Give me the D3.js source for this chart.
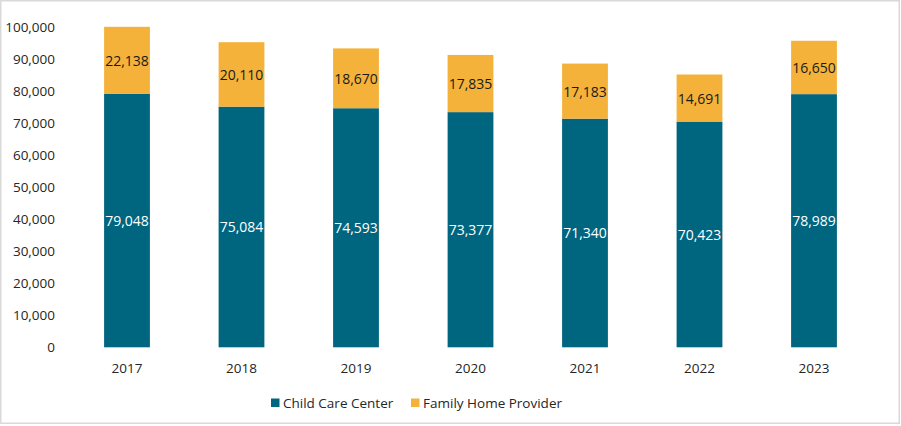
<!DOCTYPE html>
<html>
<head>
<meta charset="utf-8">
<script src="https://cdn.jsdelivr.net/npm/d3@7"></script>
<style>
  html, body { margin: 0; padding: 0; background: #fff; }
  svg { display: block; }
  text { font-family: "Open Sans", "Noto Sans", sans-serif; }
</style>
</head>
<body>
<svg id="chart" width="901" height="426"></svg>
<script>
const years = ["2017", "2018", "2019", "2020", "2021", "2022", "2023"];
const childCareCenter = [79048, 75084, 74593, 73377, 71340, 70423, 78989];
const familyHomeProvider = [22138, 20110, 18670, 17835, 17183, 14691, 16650];
const seriesNames = ["Child Care Center", "Family Home Provider"];
const seriesColors = ["#00657F", "#F4B23A"];
const labelColors = ["#ffffff", "#1a1a1a"];
const yTicks = [0, 10000, 20000, 30000, 40000, 50000, 60000, 70000, 80000, 90000, 100000];

const W = 901, H = 426;
const svg = d3.select("#chart");

// outer border
svg.append("rect")
  .attr("x", 0.75).attr("y", 0.75)
  .attr("width", 898.5).attr("height", 422.5)
  .attr("fill", "#fff").attr("stroke", "#d9d9d9").attr("stroke-width", 1.5);

const plotLeft = 69.75, plotRight = 871.25;
const x = d3.scaleBand().domain(years).range([plotLeft, plotRight]).paddingInner(0.6).paddingOuter(0.3);
const y = d3.scaleLinear().domain([0, 100000]).range([347.3, 26.8]).clamp(true);

const data = years.map((yr, i) => ({ year: yr, v0: childCareCenter[i], v1: familyHomeProvider[i] }));
const stack = d3.stack().keys(["v0", "v1"]);
const stacked = stack(data);

// y axis
const yAxis = d3.axisLeft(y).tickValues(yTicks).tickFormat(d3.format(",")).tickSize(0).tickPadding(0);
const gy = svg.append("g").attr("transform", "translate(55,0)").call(yAxis);
gy.select(".domain").remove();
gy.selectAll("text").attr("font-size", "13.5px").attr("fill", "#262626")
  .attr("font-family", "'Open Sans', sans-serif");

// bars
stacked.forEach((layer, si) => {
  const g = svg.append("g");
  g.selectAll("rect").data(layer).enter().append("rect")
    .attr("x", d => x(d.data.year))
    .attr("width", x.bandwidth())
    .attr("y", d => y(d[1]))
    .attr("height", d => y(d[0]) - y(d[1]))
    .attr("fill", seriesColors[si]);
  g.selectAll("text").data(layer).enter().append("text")
    .attr("x", d => x(d.data.year) + x.bandwidth() / 2)
    .attr("y", d => (y(d[0]) + y(d[1])) / 2)
    .attr("text-anchor", "middle")
    .attr("dominant-baseline", "central")
    .attr("font-size", "14px")
    .attr("fill", labelColors[si])
    .text(d => d3.format(",")(d[1] - d[0]));
});

// x axis
const xAxis = d3.axisBottom(x).tickSize(0).tickPadding(0);
const gx = svg.append("g").attr("transform", "translate(0,368)").call(xAxis);
gx.select(".domain").remove();
gx.selectAll("text").attr("font-size", "13.5px").attr("fill", "#262626")
  .attr("dy", "0.35em").attr("font-family", "'Open Sans', sans-serif");

// legend
const legendItems = [
  { name: seriesNames[0], color: seriesColors[0], sx: 271, tx: 283 },
  { name: seriesNames[1], color: seriesColors[1], sx: 411, tx: 423 }
];
const lg = svg.append("g");
legendItems.forEach(it => {
  lg.append("rect").attr("x", it.sx).attr("y", 398.5).attr("width", 8.5).attr("height", 8.5).attr("fill", it.color);
  lg.append("text").attr("x", it.tx).attr("y", 403).attr("dominant-baseline", "central")
    .attr("font-size", "13.5px").attr("fill", "#262626").text(it.name);
});
</script>
</body>
</html>
